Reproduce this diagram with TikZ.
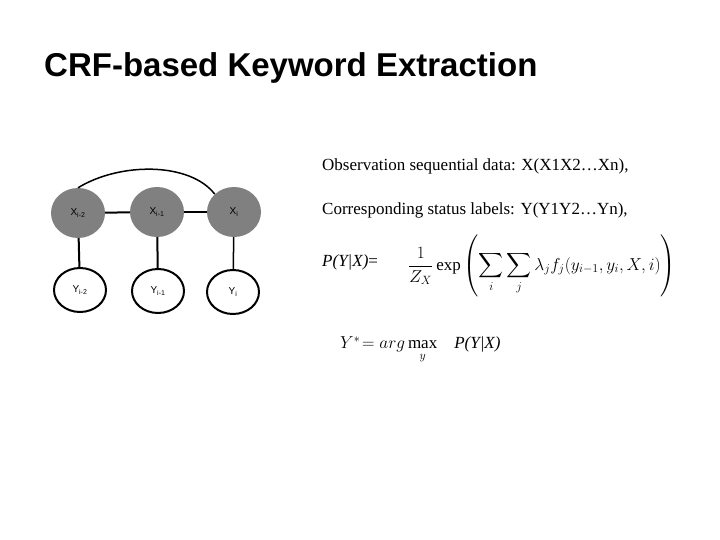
\documentclass[tikz,border=0pt]{standalone}
\usepackage{fontspec}
\setmainfont{Liberation Serif}
\newfontfamily\titlefont{Liberation Sans}
\usepackage{amsmath}
\usetikzlibrary{shapes.geometric}
\begin{document}
\begin{tikzpicture}[x=1pt,y=-1pt,
  xnode/.style={ellipse,fill=gray!75!black!80,minimum width=54pt,minimum height=50pt,inner sep=0pt,font=\titlefont\fontsize{10}{12}\selectfont},
  ynode/.style={ellipse,draw,line width=2pt,fill=white,minimum width=52pt,minimum height=44pt,inner sep=0pt,font=\titlefont\fontsize{10}{12}\selectfont},
  edge/.style={line width=2pt},
  txt/.style={anchor=west,inner sep=0pt,font=\fontsize{17}{20}\selectfont}]
\useasboundingbox (0,0) rectangle (720,540);
\node[anchor=west,inner sep=0pt,font=\titlefont\bfseries\fontsize{33}{38}\selectfont] (title) at (44,68) {CRF-based Keyword Extraction};
\node[xnode] (x2) at (78,213) {X\textsubscript{i-2}};
\node[xnode] (x1) at (157,212) {X\textsubscript{i-1}};
\node[xnode] (x0) at (234,212) {X\textsubscript{i}};
\node[ynode] (y2) at (80,290) {Y\textsubscript{i-2}};
\node[ynode] (y1) at (158,291) {Y\textsubscript{i-1}};
\node[ynode] (y0) at (233,292) {Y\textsubscript{i}};
\draw[edge] (x2) -- (x1);
\draw[edge,line width=1.5pt] (x1) -- (x0);
\draw[edge] (x2) -- (y2);
\draw[edge] (x1) -- (y1);
\draw[edge,line width=1.5pt] (x0) -- (y0);
\draw[line width=1.5pt] (x2.north) .. controls (120,162) and (190,162) .. (x0.north west);
\node[txt] (t1) at (322,166) {Observation sequential data: X(X1X2\ldots Xn),};
\node[txt] (t2) at (322,210) {Corresponding status labels: Y(Y1Y2\ldots Yn),};
\node[txt] (t3) at (322,262) {\textit{P(Y|X)}=};
\node[anchor=west,inner sep=0pt,font=\fontsize{17}{20}\selectfont] (f) at (408,266) {$\displaystyle \frac{1}{Z_X}\exp\left(\sum_i\sum_j \lambda_j f_j(y_{i-1},y_i,X,i)\right)$};
\node[anchor=west,inner sep=0pt,font=\fontsize{17}{20}\selectfont] (g) at (340,350) {$Y^{*}\!=arg\displaystyle\max_{y}$\quad\textit{P(Y|X)}};
\end{tikzpicture}
\end{document}
